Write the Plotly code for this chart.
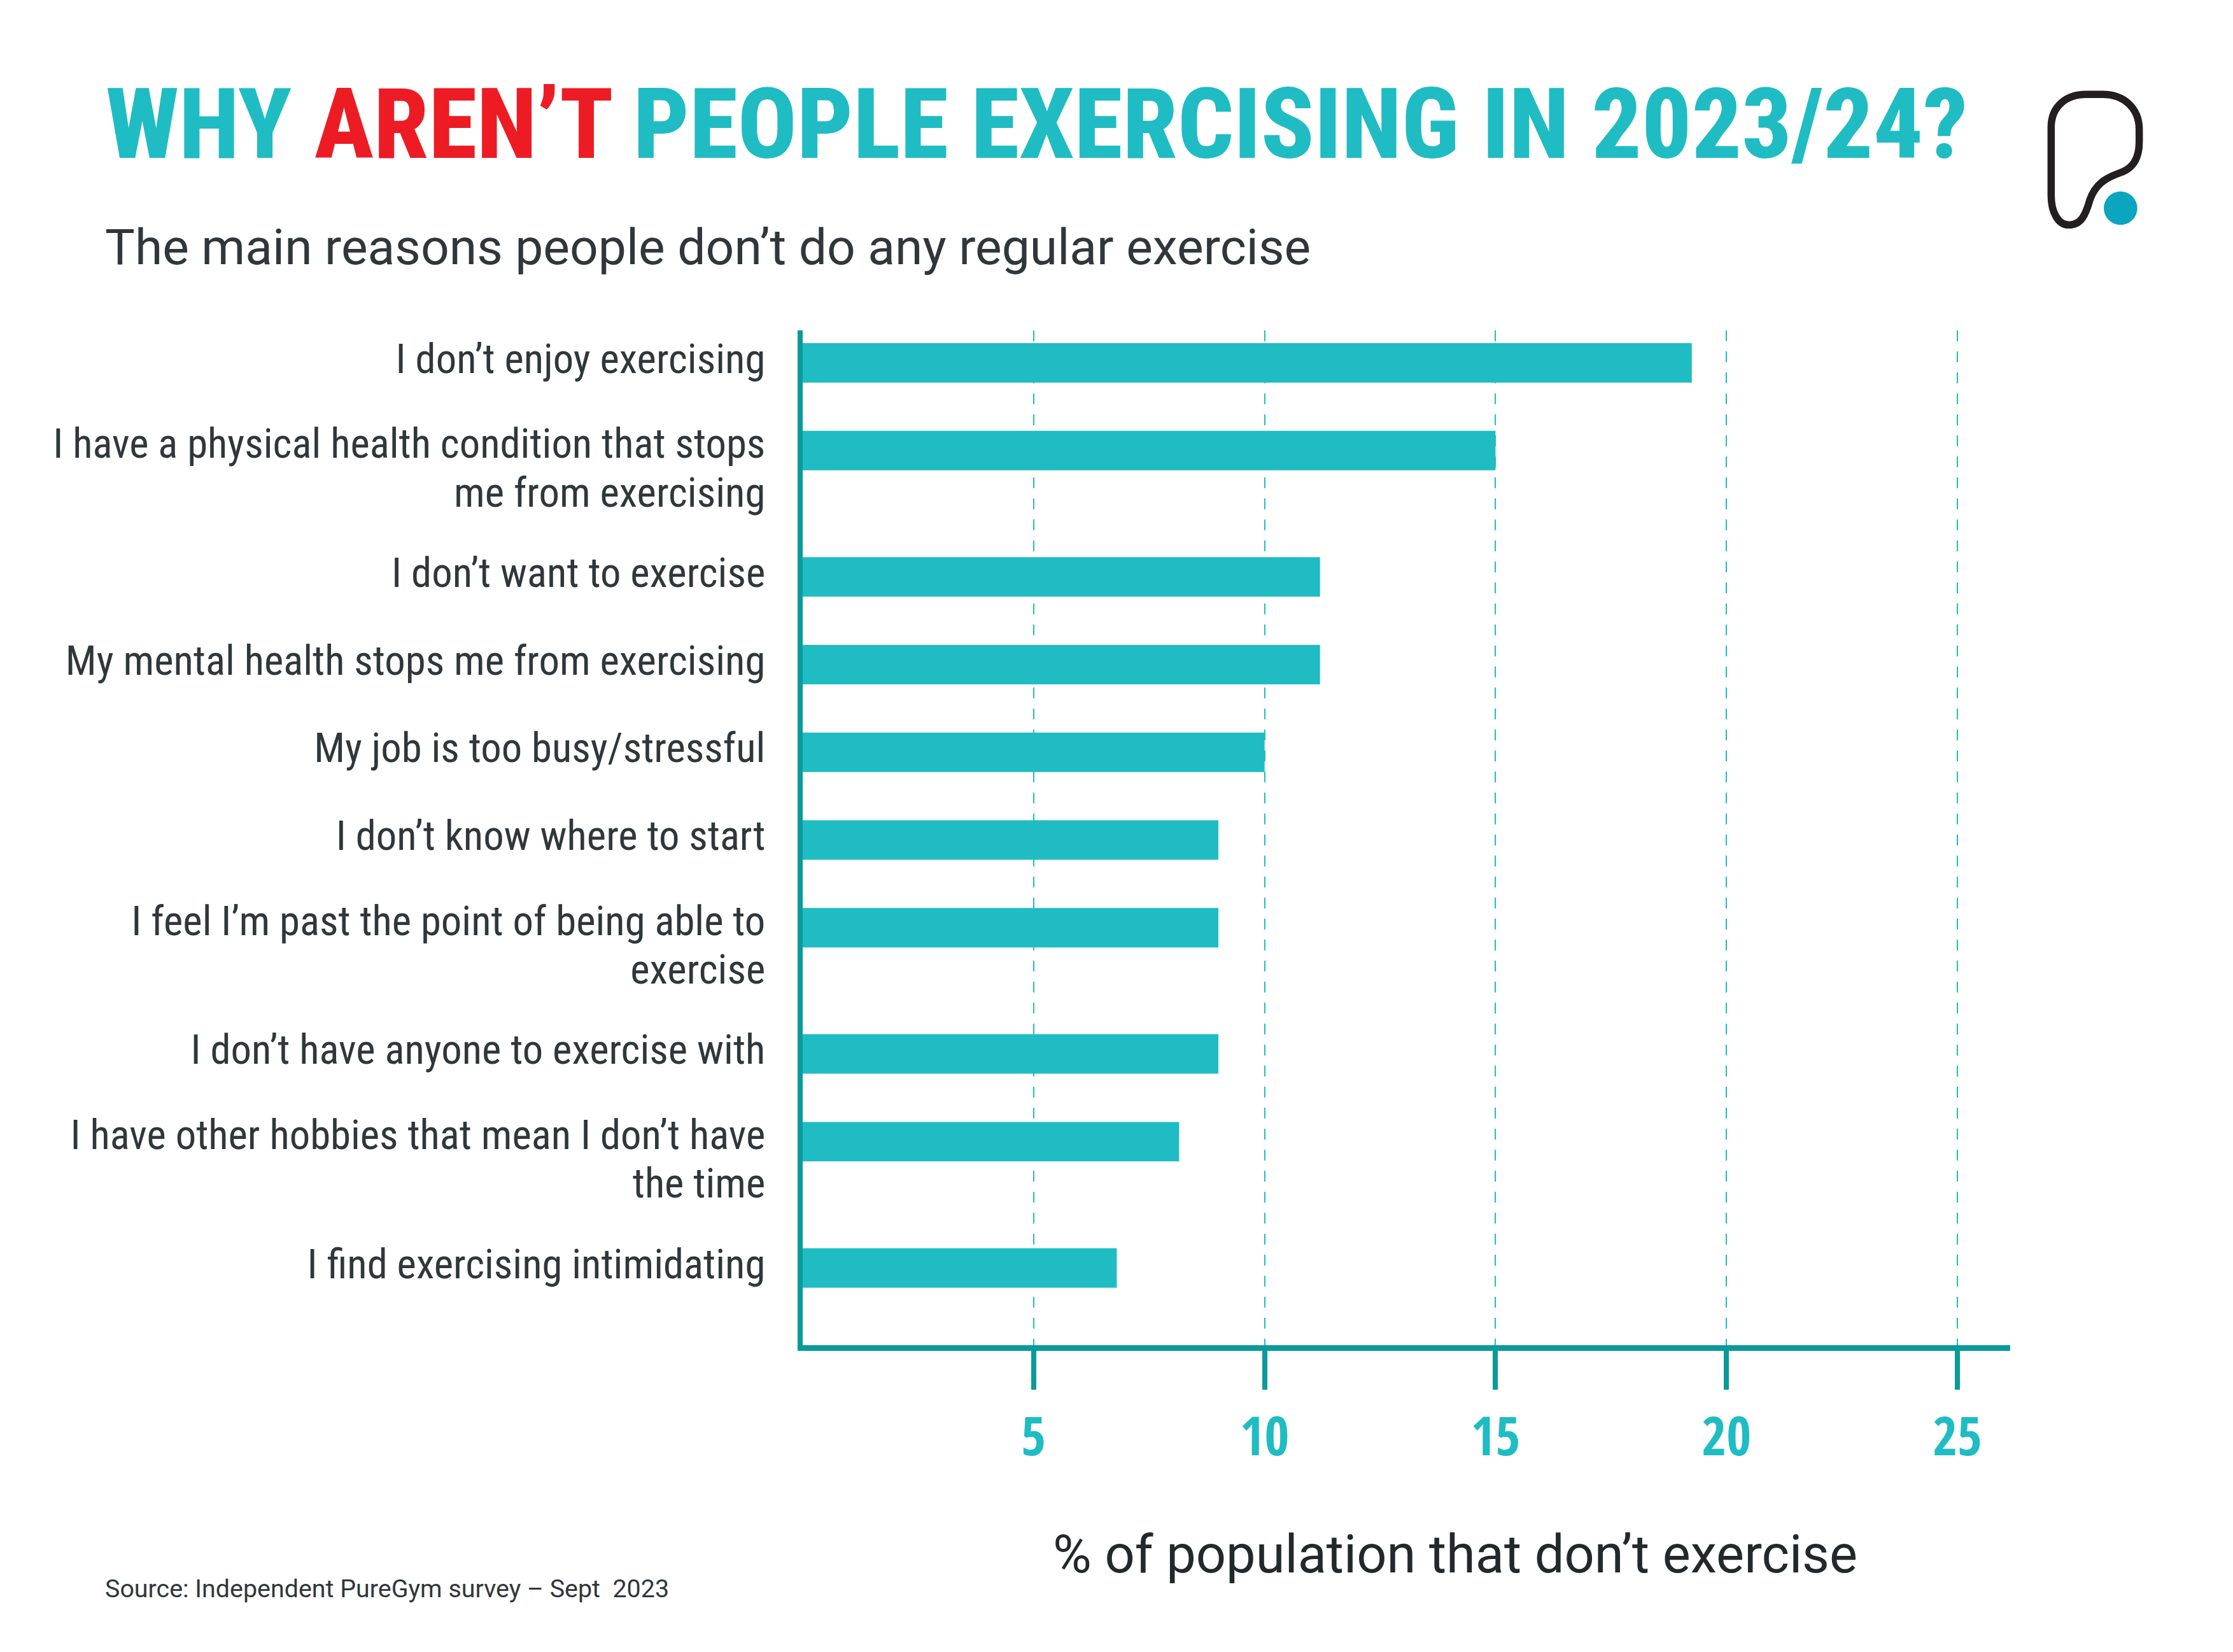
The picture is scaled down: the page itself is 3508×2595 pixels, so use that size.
import plotly.graph_objects as go

categories = [
    "I don’t enjoy exercising",
    "I have a physical health condition that stops<br>me from exercising",
    "I don’t want to exercise",
    "My mental health stops me from exercising",
    "My job is too busy/stressful",
    "I don’t know where to start",
    "I feel I’m past the point of being able to<br>exercise",
    "I don’t have anyone to exercise with",
    "I have other hobbies that mean I don’t have<br>the time",
    "I find exercising intimidating",
]
values = [19.25, 15, 11.2, 11.2, 10, 9, 9, 9, 8.15, 6.8]
x_ticks = [5, 10, 15, 20, 25]

W, H = 3508, 2595
L, R, T, B = 1261, 3158, 519, 2113
TEAL = "#1FBCC3"
AXIS = "#0A9A9C"
DARK = "#30373B"
LABEL_FONT = "Roboto"
COND_FONT = "Roboto Condensed"
TICK_FONT = "Open Sans Condensed"
LINE_STEP = 0.555
LABEL_SHIFT = -0.05


def px(x):
    return (x - L) / (R - L)


def py(y):
    return (B - y) / (B - T)


# Rows grow with the number of lines in the label; each label line is one tick label
positions = []
tick_pos = []
tick_text = []
pos = 0.0
for c in categories:
    positions.append(pos)
    lines = c.split("<br>")
    for n, line in enumerate(lines):
        extra = -0.03 if len(lines) > 1 else 0
        tick_pos.append(pos + LABEL_SHIFT + extra + n * LINE_STEP)
        tick_text.append(line)
    pos += 1.44 if len(lines) > 1 else 1.0

fig = go.Figure(
    go.Bar(x=values, y=positions, orientation="h", width=0.45, marker=dict(color=TEAL, line=dict(width=0)))
)


def lx(v):
    return 3100 + v / 3


def ly(v):
    return 100 + v / 3


logo = [
    ("M", [(367, 300)]),
    ("C", [(367, 200), (440, 145), (530, 145)]),
    ("L", [(610, 145)]),
    ("C", [(710, 145), (782, 210), (782, 310)]),
    ("L", [(782, 370)]),
    ("C", [(782, 450), (750, 495), (690, 515)]),
    ("C", [(620, 540), (575, 570), (550, 640)]),
    ("C", [(530, 710), (510, 760), (450, 760)]),
    ("C", [(400, 760), (367, 700), (367, 620)]),
]
path = " ".join(
    cmd + " " + " ".join(f"{px(lx(a)):.5f},{py(ly(b)):.5f}" for a, b in pts) for cmd, pts in logo
) + " Z"

fig.add_shape(type="path", xref="paper", yref="paper", path=path, line=dict(color="#231F20", width=11.5))
fig.add_shape(
    type="circle", xref="paper", yref="paper",
    x0=px(lx(615)), x1=px(lx(773)), y0=py(ly(760)), y1=py(ly(602)),
    fillcolor="#0AA5BE", line=dict(width=0),
)


def note(text, x, y, size, color=DARK, family=LABEL_FONT, anchor="left", weight=400):
    fig.add_annotation(
        text=text, xref="paper", yref="paper", x=px(x), y=py(y), xanchor=anchor, yanchor="middle",
        showarrow=False, font=dict(size=size, color=color, family=family, weight=weight),
    )


note("The main reasons people don’t do any regular exercise", 163, 388, 78.6)
note("% of population that don’t exercise", 2286, 2441, 83, color="#23282B", anchor="center")
note("Source: Independent PureGym survey – Sept  2023", 163, 2495, 39.4)

fig.update_layout(
    width=W, height=H, margin=dict(l=L, r=W - R, t=T, b=H - B, pad=0),
    paper_bgcolor="white", plot_bgcolor="white", showlegend=False,
    title=dict(
        text="WHY <span style='color:#ED1C24'>AREN’T</span> PEOPLE EXERCISING IN 2023/24?",
        x=166 / W, xanchor="left", y=1 - 194 / H, yanchor="middle",
        font=dict(size=154.5, color=TEAL, family=COND_FONT, weight=800),
    ),
    xaxis=dict(
        range=[0, (R - L) / 72.56], tickmode="array", tickvals=x_ticks, ticktext=[str(t) for t in x_ticks],
        showgrid=True, gridcolor=TEAL, gridwidth=2, griddash="17px,16px", zeroline=False,
        showline=True, linecolor=AXIS, linewidth=8.5,
        ticks="outside", ticklen=61, tickwidth=7.5, tickcolor=AXIS,
        tickfont=dict(size=84, color=TEAL, family=TICK_FONT, weight="bold"), ticklabelstandoff=2,
    ),
    yaxis=dict(
        range=[11.2, -0.37], tickmode="array", tickvals=tick_pos, ticktext=tick_text,
        showgrid=False, zeroline=False, showline=True, linecolor=AXIS, linewidth=7.5,
        ticks="", tickfont=dict(size=64.7, color=DARK, family=COND_FONT), ticklabelstandoff=38,
    ),
)

fig.write_html("out.html", config={"displayModeBar": False}, post_script="document.body.style.margin='0';")
